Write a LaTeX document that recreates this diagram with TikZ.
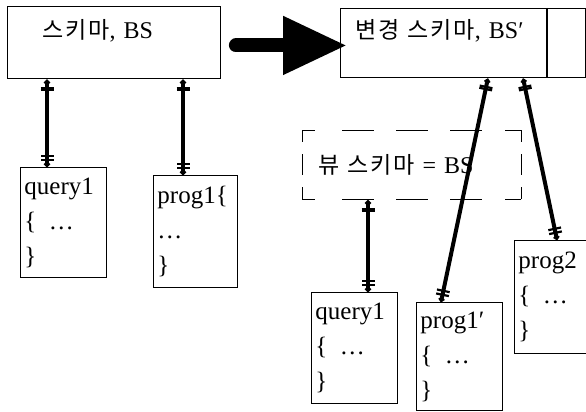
\documentclass[tikz,border=0pt]{standalone}
\usepackage{fontspec}
\setmainfont{Liberation Serif}
\newfontfamily\krfont{Noto Sans CJK KR}[Scale=0.96,LetterSpace=8]
\usepackage{tikz}
\usetikzlibrary{arrows.meta,positioning}

\newcommand{\hgl}[1]{{\krfont #1}}

\tikzset{
  schemabox/.style={draw,line width=0.9pt,anchor=north west,inner ysep=0pt,align=left,font=\fontsize{24}{28}\selectfont},
  codebox/.style={draw,line width=0.9pt,anchor=north west,text width=78pt,inner xsep=4pt,align=left,font=\fontsize{25}{35}\selectfont},
  viewside/.style={line width=0.9pt,dash pattern=on 13pt off 27pt on 32pt off 22pt on 32pt off 22pt on 32pt off 23pt on 16pt off 20pt},
  viewend/.style={line width=0.9pt,dash pattern=on 12pt off 12pt on 21pt off 12pt on 12pt off 20pt},
  plug/.style={line width=4pt,
    {Circle[length=5.5pt,sep=0.8pt] Bar[width=13pt,line width=2.2pt,sep=1.8pt] Bar[width=13pt,line width=2.2pt]}-{Bar[width=13pt,line width=2.2pt,sep=1.8pt] Bar[width=13pt,line width=2.2pt,sep=0.8pt] Circle[length=5.5pt]}},
  bigarrow/.style={line width=14pt,line cap=round,-{Triangle[length=64pt,width=55pt]}},
}

\begin{document}
\begin{tikzpicture}[x=1pt,y=-1pt]
\fill[white] (0,0) rectangle (586,412);
\useasboundingbox (0,0) rectangle (586,412);

\node[schemabox,minimum width=213pt,text width=143pt,inner xsep=35pt,text height=32pt,text depth=40pt] (s1) at (7,6) {\hgl{스키마}, BS};
\node[schemabox,minimum width=245pt,text width=215pt,inner xsep=15pt,text height=30pt,text depth=39pt] (s2) at (340,8) {\hgl{변경 스키마}, BS′};
\draw[line width=2.5pt] ([xshift=207pt]s2.north west) -- ([xshift=207pt]s2.south west);

\draw[bigarrow] ([shift={(15,3)}]s1.east) -- ([shift={(7,2.5)}]s2.west);

\node[anchor=north west,minimum width=219pt,minimum height=69pt,text width=187pt,inner xsep=16pt,align=left,font=\fontsize{24}{28}\selectfont] (v1) at (302,130) {\hgl{뷰 스키마} = BS};
\draw[viewside] (v1.north west) -- (v1.north east);
\draw[viewside] (v1.south west) -- (v1.south east);
\draw[viewend] (v1.north west) -- (v1.south west);
\draw[viewend] (v1.north east) -- (v1.south east);

\node[codebox,minimum height=110pt] (q1) at (20,167) {query1\\\{\enspace\ldots\\\}};
\node[codebox,text width=76pt,minimum height=112pt] (p1) at (153,175) {prog1\{\\\ldots\\\}};
\node[codebox,minimum height=111pt] (q2) at (311,292) {query1\\\{\enspace\ldots\\\}};
\node[codebox,minimum height=108pt] (p2) at (416,302) {prog1′\\\{\enspace\ldots\\\}};
\node[codebox,minimum height=113pt] (p3) at (514,240) {prog2\\\{\enspace\ldots\\\}};

\draw[plug] ([xshift=40pt]s1.south west) -- ([xshift=27pt]q1.north west);
\draw[plug] ([xshift=176pt]s1.south west) -- ([xshift=30pt]p1.north west);
\draw[plug] ([xshift=148pt]s2.south west) -- ([xshift=25pt]p2.north west);
\draw[plug] ([xshift=183pt]s2.south west) -- ([xshift=43pt]p3.north west);
\draw[plug] ([xshift=66pt]v1.south west) -- ([xshift=57pt]q2.north west);
\end{tikzpicture}
\end{document}
